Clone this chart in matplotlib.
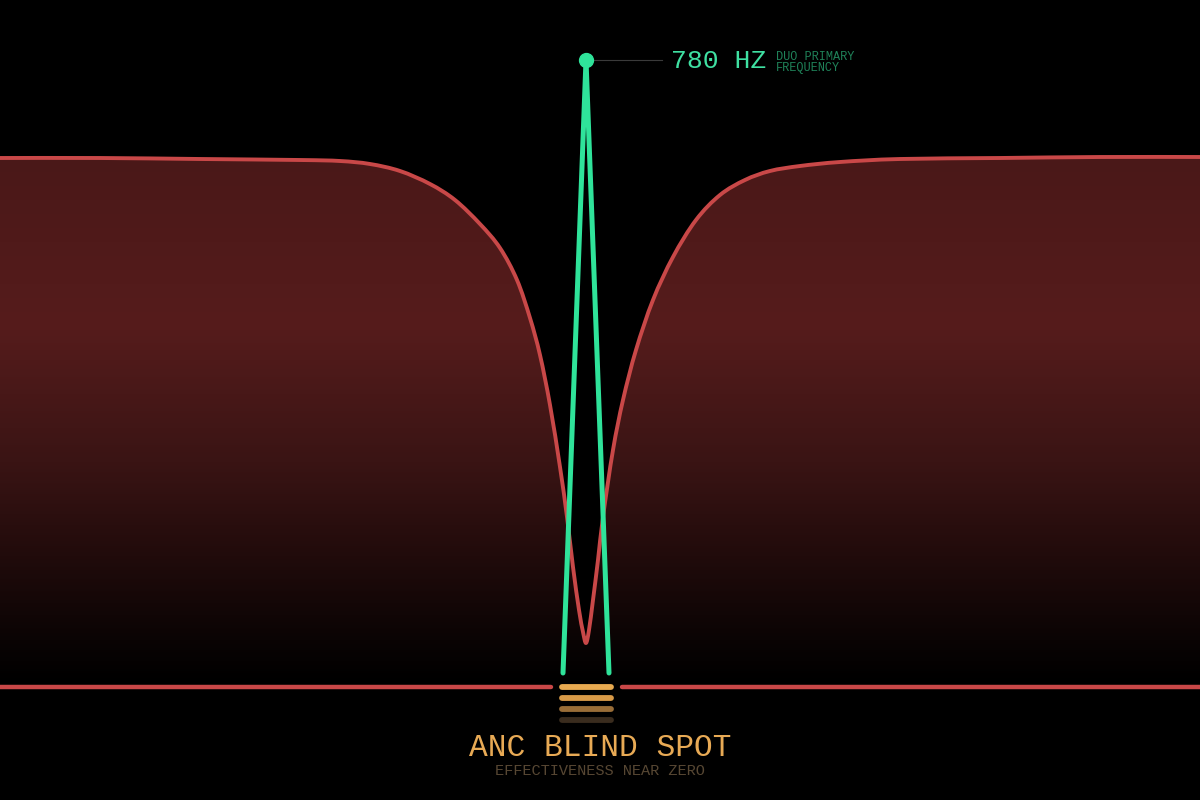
import numpy as np
import matplotlib.pyplot as plt
from matplotlib.colors import LinearSegmentedColormap
from matplotlib.path import Path
from matplotlib.patches import PathPatch

# horizontal position (0..1200) and ANC effectiveness (0 = baseline)
curve_x = [0, 100, 200, 300, 340, 370, 400, 430, 455, 480, 500, 517, 530, 540,
           550, 560, 567, 573, 579, 583, 586,
           589, 593, 598, 603, 613, 623, 636, 653, 673, 696, 720, 745, 770,
           800, 840, 900, 1000, 1100, 1200]
curve_y = [529, 529, 528, 527, 526, 523, 516, 503, 487, 463, 439, 407, 369, 332,
           282, 220, 170, 120, 77, 55, 44,
           57, 87, 127, 170, 237, 287, 337, 387, 430, 467, 492, 507, 516,
           521, 525, 528, 529, 530, 530]

spike_x = [563, 586, 609]
spike_y = [14, 627, 14]

peak_label = "780 HZ"
peak_note = ["DUO PRIMARY", "FREQUENCY"]
title = "ANC BLIND SPOT"
subtitle = "EFFECTIVENESS NEAR ZERO"


def smooth_path(xs, ys):
    # catmull-rom through the read points, drawn as cubic bezier segments
    pts = np.column_stack([xs, ys]).astype(float)
    verts = [pts[0]]
    codes = [Path.MOVETO]
    n = len(pts)
    for i in range(n - 1):
        p0 = pts[max(i - 1, 0)]
        p1 = pts[i]
        p2 = pts[i + 1]
        p3 = pts[min(i + 2, n - 1)]
        verts += [p1 + (p2 - p0) / 6, p2 - (p3 - p1) / 6, p2]
        codes += [Path.CURVE4] * 3
    return verts, codes


fig = plt.figure(figsize=(12, 8), dpi=100, facecolor="black")
ax = fig.add_axes([0, 0, 1, 1])
ax.set_facecolor("black")
ax.set_xlim(0, 1200)
ax.set_ylim(-113, 687)
ax.axis("off")

verts, codes = smooth_path(curve_x, curve_y)

# gradient fill under the red curve
cmap = LinearSegmentedColormap.from_list(
    "fade", [(0.0, "#000000"), (0.08, "#0a0404"), (0.22, "#1e0a0a"),
             (0.42, "#3a1414"), (0.68, "#561c1c"), (1.0, "#4a1818")])
grad = np.linspace(0, 1, 256).reshape(-1, 1)
img = ax.imshow(grad, extent=[0, 1200, 4, 530], origin="lower", cmap=cmap,
                aspect="auto", zorder=1)
fill_path = Path(verts + [(curve_x[-1], 4), (curve_x[0], 4), (curve_x[0], 4)],
                 codes + [Path.LINETO, Path.LINETO, Path.CLOSEPOLY])
img.set_clip_path(fill_path, transform=ax.transData)

ax.add_patch(PathPatch(Path(verts, codes), facecolor="none", edgecolor="#c94848",
                       lw=2.8, capstyle="round", joinstyle="round", zorder=3))

# baseline
ax.plot([0, 551], [0, 0], color="#c94848", lw=3.2, solid_capstyle="round", zorder=3)
ax.plot([622, 1200], [0, 0], color="#c94848", lw=3.2, solid_capstyle="round", zorder=3)

# green spike
ax.plot(spike_x, spike_y, color="#2fe39a", lw=3.6, zorder=4,
        solid_capstyle="round", solid_joinstyle="round")
ax.plot([spike_x[1]], [spike_y[1]], "o", ms=10, color="#2fe39a", zorder=5)
ax.plot([593, 662], [spike_y[1], spike_y[1]], color="#3a3a3a", lw=0.8, zorder=4)

mono = "Liberation Mono"
ax.text(671, spike_y[1] - 1, peak_label, color="#3fe0a2", fontsize=19,
        family=mono, ha="left", va="center", zorder=5)
ax.text(776, spike_y[1] + 3, peak_note[0], color="#1f8259", fontsize=8.6,
        family=mono, ha="left", va="center", zorder=5)
ax.text(776, spike_y[1] - 8, peak_note[1], color="#1f8259", fontsize=8.6,
        family=mono, ha="left", va="center", zorder=5)

# stacked orange bars under the spike
bar_y = [0, -11, -22, -33]
bar_c = ["#e8aa50", "#d89a48", "#9a6e38", "#3a2c1e"]
for by, bc in zip(bar_y, bar_c):
    ax.plot([562, 611], [by, by], color=bc, lw=4.2, solid_capstyle="round", zorder=4)

ax.text(600, -61, title, color="#e8aa55", fontsize=22.5, family=mono,
        ha="center", va="center", zorder=5)
ax.text(600, -84, subtitle, color="#574733", fontsize=11, family=mono,
        ha="center", va="center", zorder=5)

fig.savefig("out.png", dpi=100, facecolor="black")
